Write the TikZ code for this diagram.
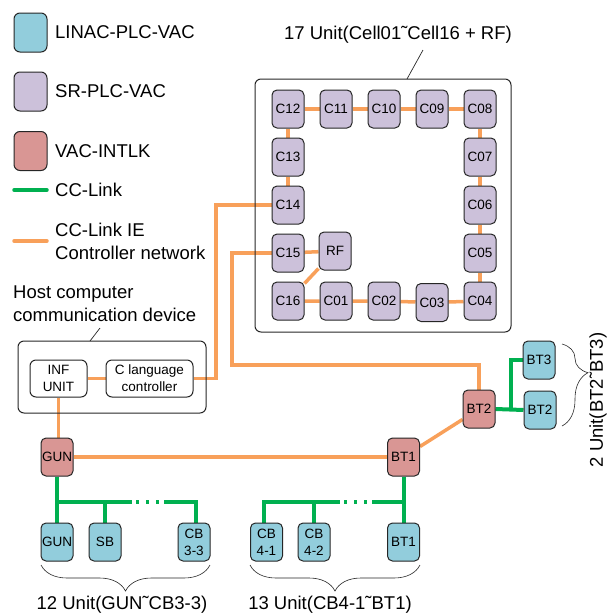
\documentclass[tikz,border=0pt]{standalone}
\usepackage{fontspec}
\setmainfont{Liberation Sans}
\usetikzlibrary{decorations.pathreplacing,calc}
\definecolor{linac}{RGB}{146,205,220}
\definecolor{srv}{RGB}{204,193,218}
\definecolor{intlk}{RGB}{217,150,148}
\definecolor{ccie}{RGB}{248,160,90}
\definecolor{ccl}{RGB}{0,176,80}
\pgfdeclarelayer{bg}
\pgfsetlayers{bg,main}
\begin{document}
\begin{tikzpicture}[x=1pt,y=-1pt,
  box/.style={draw=black!85, line width=1pt, rounded corners=5pt, minimum width=32pt, minimum height=38pt, inner sep=0pt, align=center, font=\fontsize{13.5}{17}\selectfont},
  cell/.style={box, fill=srv},
  lin/.style={box, fill=linac},
  ilk/.style={box, fill=intlk},
  leg/.style={box, minimum width=33pt, minimum height=39pt, rounded corners=6pt},
  frame/.style={draw=black!85, line width=1pt, rounded corners=6pt, inner sep=0pt},
  wbox/.style={draw=black!85, line width=1pt, rounded corners=6pt, inner sep=0pt, fill=white, align=center, font=\fontsize{13.5}{17}\selectfont},
  ie/.style={ccie, line width=3.5pt},
  cc/.style={ccl, line width=4pt},
  lbl/.style={font=\fontsize{18.5}{23}\selectfont, inner sep=0pt, align=left},
  thin/.style={line width=0.7pt, black!85},
  brc/.style={decorate, line width=0.6pt, black!85}
]
\useasboundingbox (0,0) rectangle (608,614);

% legend
\node[leg, fill=linac] (lg1) at (30.5,32.5) {};
\node[leg, fill=srv] (lg2) at (30.5,91.5) {};
\node[leg, fill=intlk] (lg3) at (30.5,151) {};
\node[lbl, anchor=west] (lt1) at (55,32) {LINAC-PLC-VAC};
\node[lbl, anchor=west] (lt2) at (55,91) {SR-PLC-VAC};
\node[lbl, anchor=west] (lt3) at (55,151) {VAC-INTLK};
\coordinate (la1) at (14,190); \coordinate (lb1) at (47,190);
\coordinate (la2) at (14,241); \coordinate (lb2) at (47,241);
\draw[cc, line width=3.5pt, line cap=round] (la1) -- (lb1);
\draw[ie, line cap=round] (la2) -- (lb2);
\node[lbl, anchor=west] (lt4) at (55,190) {CC-Link};
\node[lbl, anchor=west] (lt5) at (55,241.5) {CC-Link IE\\Controller network};

% cell frame
\node[frame, minimum width=256pt, minimum height=253pt] (cframe) at (383,205.5) {};
\node[lbl, align=center] (ctitle) at (398,35) {17 Unit(Cell01˜Cell16 + RF)};
\coordinate (ct1) at (423,50);
\coordinate (ct2) at (407,79);
\draw[thin] (ct1) -- (ct2);

\node[cell] (C12) at (288,109) {C12};
\node[cell] (C11) at (336,109) {C11};
\node[cell] (C10) at (384,109) {C10};
\node[cell] (C09) at (432,109) {C09};
\node[cell] (C08) at (480,109) {C08};
\node[cell] (C13) at (288,157) {C13};
\node[cell] (C07) at (480,157) {C07};
\node[cell] (C14) at (288,205) {C14};
\node[cell] (C06) at (480,205) {C06};
\node[cell] (C15) at (288,253) {C15};
\node[cell] (RF) at (335,251) {RF};
\node[cell] (C05) at (480,253) {C05};
\node[cell] (C16) at (288,301) {C16};
\node[cell] (C01) at (336,301) {C01};
\node[cell] (C02) at (384,301) {C02};
\node[cell] (C03) at (432,302.5) {C03};
\node[cell] (C04) at (480,301) {C04};

% host computer
\node[lbl, anchor=west] (htitle) at (13,304) {Host computer\\communication device};
\node[frame, minimum width=188pt, minimum height=72pt] (host) at (112,377) {};
\coordinate (ht1) at (100,328);
\coordinate (ht2) at (90,341);
\draw[thin] (ht1) -- (ht2);
\node[wbox, minimum width=57pt, minimum height=37pt] (inf) at (58.5,378.5) {INF\\UNIT};
\node[wbox, minimum width=87pt, minimum height=37pt] (clang) at (149.5,378.5) {C language\\controller};

% interlocks and linac units
\node[ilk] (GUNi) at (57,457) {GUN};
\node[ilk] (BT1i) at (403.5,457) {BT1};
\node[ilk] (BT2i) at (479,409) {BT2};
\node[lin] (BT3l) at (539,360) {BT3};
\node[lin] (BT2l) at (540,410) {BT2};

\node[lin] (GUNl) at (57,542) {GUN};
\node[lin] (SBl) at (105,542) {SB};
\node[lin] (CB33) at (194,542) {CB\\3-3};
\node[lin] (CB41) at (266.5,542) {CB\\4-1};
\node[lin] (CB42) at (314,542) {CB\\4-2};
\node[lin] (BT1l) at (403.5,542) {BT1};

% connectors
\begin{pgfonlayer}{bg}
\draw[ie] (C12) -- (C11) -- (C10) -- (C09) -- (C08);
\draw[ie] (C08) -- (C07) -- (C06) -- (C05) -- (C04);
\draw[ie] (C04) -- (C03) -- (C02) -- (C01) -- (C16);
\draw[ie] (C16) -- (RF);
\draw[ie] (RF) -- (C15);
\draw[ie] (C12) -- (C13) -- (C14);
\coordinate (j1) at (216,205);
\coordinate (j2) at (232,365);
\draw[ie] (inf) -- (clang);
\draw[ie] (clang.east) -| (j1) -- (C14.west);
\draw[ie] (C15.west) -| (j2) -| (BT2i.north);
\draw[ie] (inf.south) -- (inf.south |- GUNi.north);
\draw[ie] (GUNi) -- (BT1i);
\draw[ie] (BT1i) -- (BT2i);

\coordinate (g1) at (511,409.5);
\draw[cc] (BT2i.east) -- (BT2l.west);
\draw[cc] (g1) |- (BT3l.west);

\coordinate (bl0) at (57,502);
\coordinate (bl1) at (132,502);
\coordinate (bl2) at (136,502);
\coordinate (bl3) at (160,502);
\coordinate (bl4) at (164,502);
\coordinate (bl5) at (196,502);
\draw[cc] (GUNi.south) -- (GUNl.north);
\draw[cc] (bl0) -- (bl1);
\draw[ccl, line width=4pt, dash pattern=on 3pt off 7pt] (bl2) -- (bl3);
\draw[cc] (bl4) -| (bl5 |- CB33.north);
\draw[cc] (SBl.north) -- (SBl.north |- bl0);

\coordinate (br0) at (264,502);
\coordinate (br1) at (340,502);
\coordinate (br2) at (344,502);
\coordinate (br3) at (368,502);
\coordinate (br4) at (372,502);
\coordinate (br5) at (405,502);
\draw[cc] (BT1i.south) -- (BT1l.north);
\draw[cc] (CB41.north -| br0) |- (br1);
\draw[ccl, line width=4pt, dash pattern=on 3pt off 7pt] (br2) -- (br3);
\draw[cc] (br4) -- (br5);
\draw[cc] (CB42.north) -- (CB42.north |- br0);
\end{pgfonlayer}

% braces and group labels
\coordinate (bA1) at (210,565); \coordinate (bA2) at (41,565);
\coordinate (bB1) at (420,565); \coordinate (bB2) at (250,565);
\coordinate (bC1) at (562,344); \coordinate (bC2) at (562,426);
\draw[brc, decoration={brace, amplitude=26pt, aspect=0.5}] (bA1) -- (bA2);
\draw[brc, decoration={brace, amplitude=26pt, aspect=0.5}] (bB1) -- (bB2);
\draw[brc, decoration={brace, amplitude=26pt, aspect=0.35}] (bC1) -- (bC2);
\node[lbl] (g12) at (122,605) {12 Unit(GUN˜CB3-3)};
\node[lbl] (g13) at (330,605) {13 Unit(CB4-1˜BT1)};
\node[lbl, rotate=90] (g2) at (598,400) {2 Unit(BT2˜BT3)};
\end{tikzpicture}
\end{document}
